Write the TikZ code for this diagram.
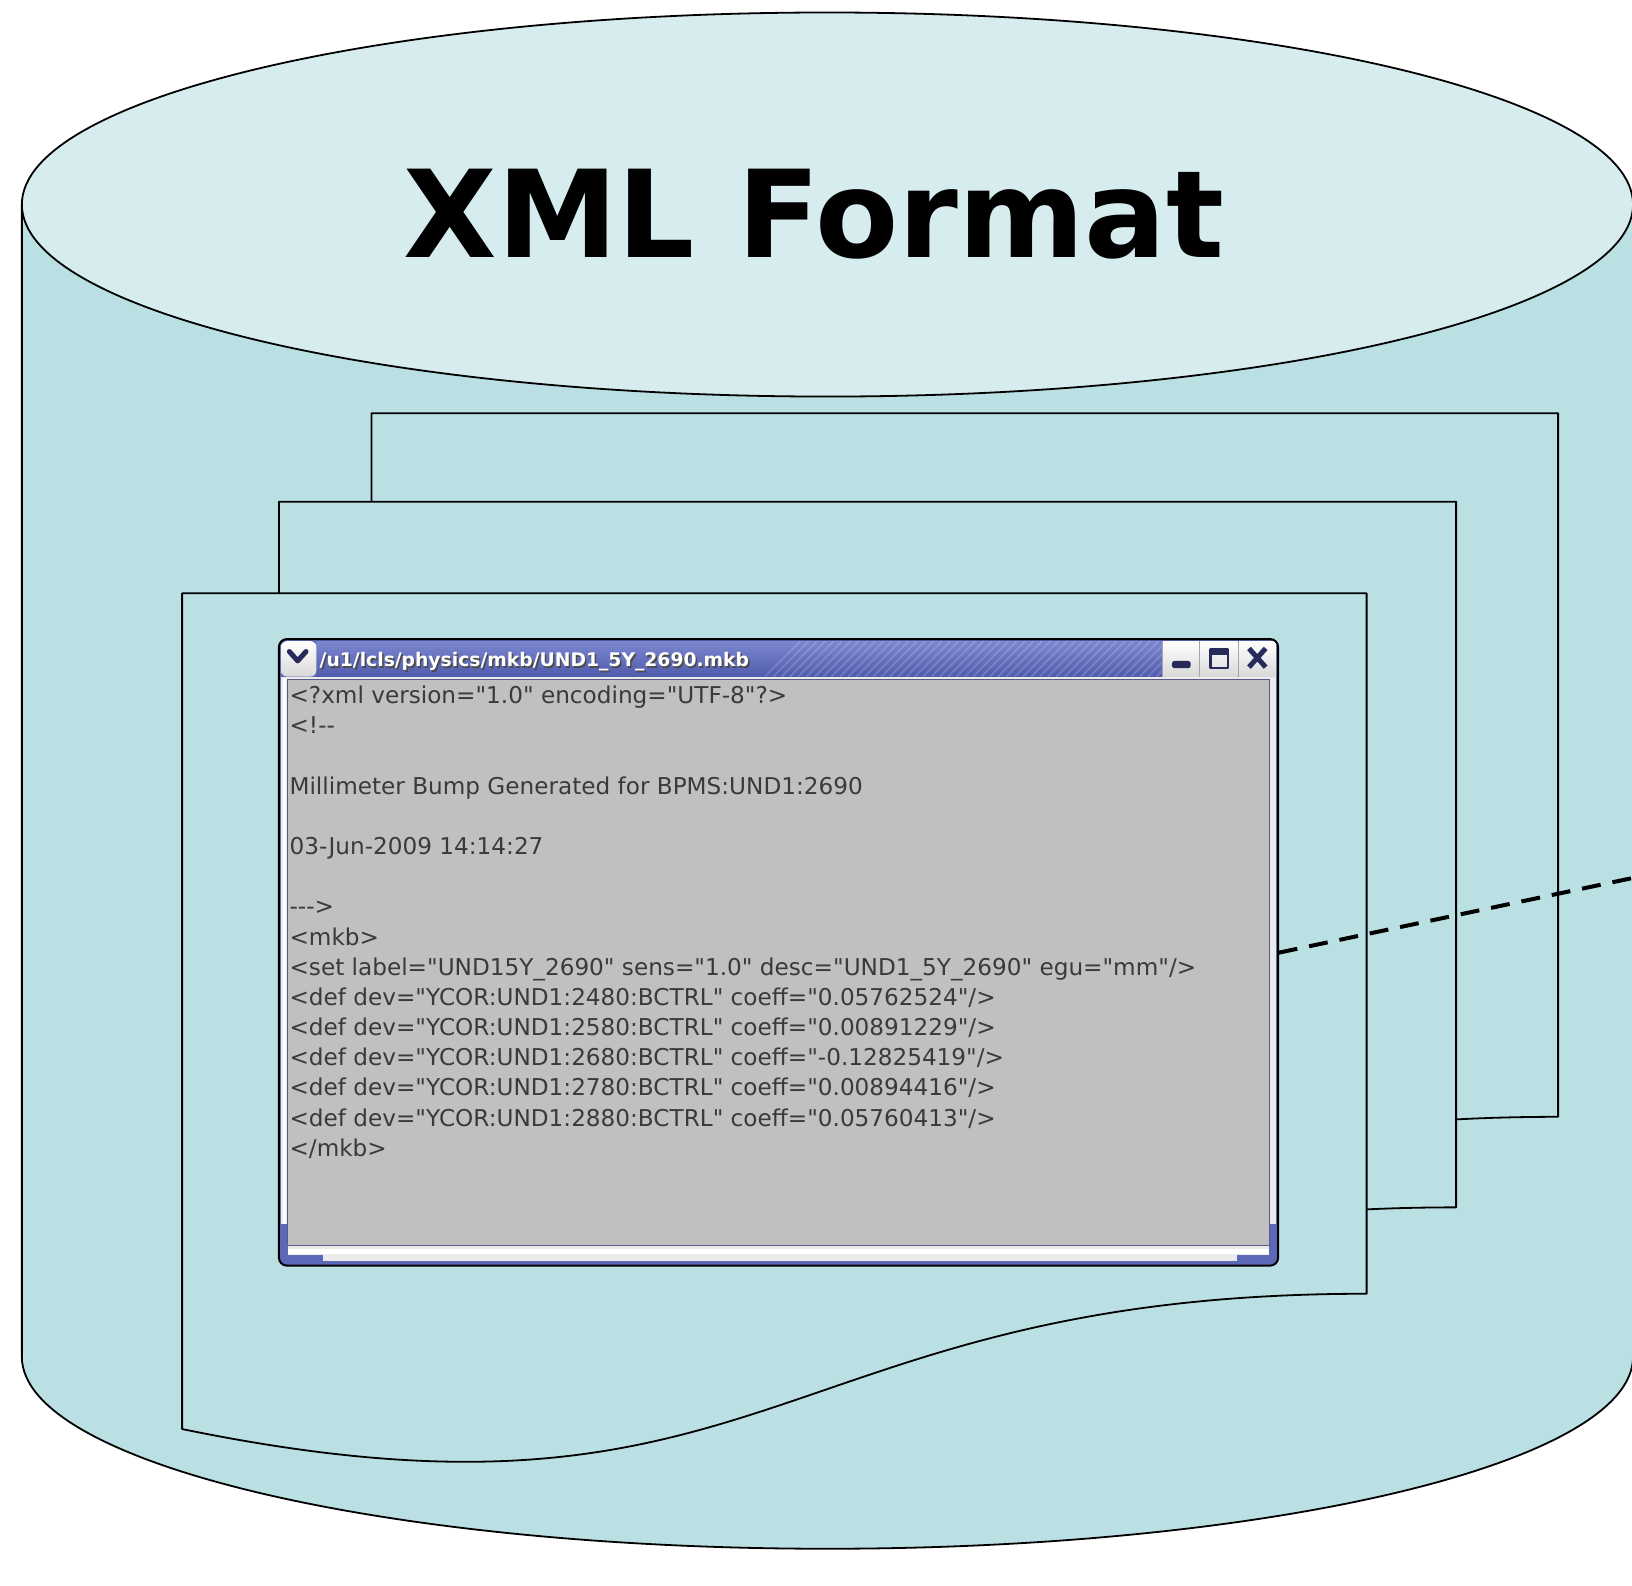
\documentclass[tikz,border=0pt]{standalone}
\usepackage{fontspec}
\newfontfamily\codefont{DejaVu Sans}
\newfontfamily\headfont{DejaVu Sans}
\definecolor{bodycol}{RGB}{186,224,227}
\definecolor{topcol}{RGB}{215,236,239}
\definecolor{contentgray}{RGB}{192,192,192}
\definecolor{winblue}{RGB}{92,104,184}
\definecolor{bartop}{RGB}{124,134,208}
\definecolor{barbot}{RGB}{80,92,172}
\definecolor{navy}{RGB}{38,43,92}
\definecolor{codetext}{RGB}{58,58,58}
\tikzset{
  outline/.style={draw=black, line width=1.8pt},
  pagebox/.style={outline, fill=bodycol},
  codeline/.style={anchor=base west, inner sep=0pt, text=codetext, font=\codefont\fontsize{22.25}{26}\selectfont},
  btn/.style={top color=white, bottom color=black!15},
  icon/.style={navy},
  link/.style={draw=black, line width=4pt, dash pattern=on 19pt off 12pt},
}
\begin{document}
\begin{tikzpicture}[x=1pt,y=-1pt,scale=1.0408,every node/.append style={transform shape},line join=round]
\useasboundingbox (0,0) rectangle (1568,1523.8);
\clip (0,0) rectangle (1568,1523.8);
% cylinder
\path[outline, fill=bodycol] (21,196.5) -- (21,1303.5)
  arc[start angle=180,end angle=360,x radius=774pt,y radius=184.5pt]
  -- (1569,196.5) -- cycle;
\path[outline, fill=topcol] (795,196.5) ellipse [x radius=774pt, y radius=184.5pt];
\node[anchor=base, inner sep=0pt, font=\headfont\bfseries\fontsize{116.5}{120}\selectfont] (title) at (782,247) {XML Format};
% stacked pages
\path[pagebox] (357,397) -- (1497,397) -- (1497,1073) .. controls (927,1073) and (927,1310) .. (357,1203) -- cycle;
\path[pagebox] (268,482) -- (1399,482) -- (1399,1160) .. controls (834,1160) and (834,1397) .. (268,1290) -- cycle;
\path[pagebox] (175,570) -- (1313,570) -- (1313,1243) .. controls (744,1243) and (744,1490) .. (175,1373) -- cycle;
% window
\node[fill=winblue, rounded corners=8pt, minimum width=960pt, minimum height=602pt, anchor=north west, inner sep=0pt] (win) at (268,614) {};
\shade[top color=bartop, bottom color=barbot] (304,616) rectangle (1117,650);
\begin{scope}
  \clip (735,616) rectangle (1117,650);
  \foreach \i in {0,...,50} \draw[white, opacity=0.18, line width=1.5pt] (735+\i*8,650) -- ++(34,-34);
\end{scope}
\node[anchor=base west, inner sep=0pt, text=black!70, font=\codefont\bfseries\fontsize{18}{20}\selectfont] at (308.5,642) {/u1/lcls/physics/mkb/UND1\_5Y\_2690.mkb};
\node[anchor=base west, inner sep=0pt, text=white, font=\codefont\bfseries\fontsize{18}{20}\selectfont] (wintitle) at (307,640.5) {/u1/lcls/physics/mkb/UND1\_5Y\_2690.mkb};
% left menu button
\shade[btn, rounded corners=6pt] (270,616) -- (304,616) -- (304,650) -- (270,650) -- cycle;
\draw[icon, line width=5pt, line cap=round] (278,626) -- (286,635) -- (294,626);
% right buttons
\shade[btn] (1117,616) rectangle (1152,650);
\shade[btn] (1153,616) rectangle (1189,650);
\shade[btn] (1190,616) rectangle (1226,650);
\draw[black!35, line width=1pt] (1117,616) -- (1117,650) (1152.5,616) -- (1152.5,650) (1189.5,616) -- (1189.5,650);
\fill[icon, rounded corners=2.5pt] (1126,635) rectangle (1144,642);
\draw[icon, line width=2.5pt] (1163,624) rectangle (1180,642);
\fill[icon] (1163,623) rectangle (1180,629);
\draw[icon, line width=5pt] (1200,623) -- (1216,641) (1216,623) -- (1200,641);
% content frame
\fill[white!92!black] (270,650) rectangle (1226,1212);
\fill[winblue] (270,1176) rectangle (277,1214);
\fill[winblue] (270,1206) rectangle (310,1214);
\fill[winblue] (1219,1176) rectangle (1226,1214);
\fill[winblue] (1188,1206) rectangle (1226,1214);
\fill[white] (277,1200) rectangle (1219,1205);
\fill[white] (272,652) rectangle (275,1176);
\path[fill=contentgray, draw=black!40!blue!30!gray, line width=1pt] (276,653) rectangle (1220,1197);
\draw[black, line width=2pt, rounded corners=8pt] (268,614) rectangle (1228,1216);
% code text
\node[codeline] (l0) at (278,676) {<?xml version="1.0" encoding="UTF-8"?>};
\node[codeline] (l1) at (278,705) {<!--};
\node[codeline] (l3) at (278,763) {Millimeter Bump Generated for BPMS:UND1:2690};
\node[codeline] (l5) at (278,821) {03-Jun-2009 14:14:27};
\node[codeline] (l7) at (278,879) {--->};
\node[codeline] (l8) at (278,908) {<mkb>};
\node[codeline] (l9) at (278,937) {<set label="UND15Y\_2690" sens="1.0" desc="UND1\_5Y\_2690" egu="mm"/>};
\node[codeline] (l10) at (278,966) {<def dev="YCOR:UND1:2480:BCTRL" coeff="0.05762524"/>};
\node[codeline] (l11) at (278,995) {<def dev="YCOR:UND1:2580:BCTRL" coeff="0.00891229"/>};
\node[codeline] (l12) at (278,1024) {<def dev="YCOR:UND1:2680:BCTRL" coeff="-0.12825419"/>};
\node[codeline] (l13) at (278,1053) {<def dev="YCOR:UND1:2780:BCTRL" coeff="0.00894416"/>};
\node[codeline] (l14) at (278,1082) {<def dev="YCOR:UND1:2880:BCTRL" coeff="0.05760413"/>};
\node[codeline] (l15) at (278,1111) {</mkb>};
% dashed connector leaving the picture
\coordinate (dashend) at (1580,841);
\draw[link] (win.east) -- (dashend);
\end{tikzpicture}
\end{document}
